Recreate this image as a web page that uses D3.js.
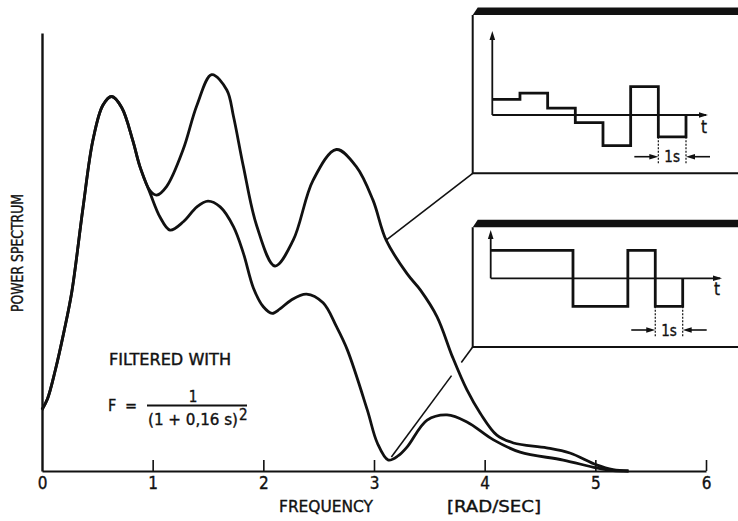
<!DOCTYPE html>
<html><head><meta charset="utf-8">
<script src="https://cdn.jsdelivr.net/npm/d3@7"></script>
<style>
html,body{margin:0;padding:0;background:#fff;}
svg{display:block;}
text{font-family:"Liberation Sans Narrow","DejaVu Sans Condensed","Liberation Sans",sans-serif;fill:#111;stroke:#111;stroke-width:0.35px;}
</style></head><body>
<svg id="chart" width="738" height="521"></svg>
<script>
// Power spectrum of the unfiltered test signal
const freqUnfiltered = [0, 0.05, 0.12, 0.2, 0.27, 0.37, 0.46, 0.55, 0.63, 0.72, 0.82, 0.885, 0.976, 1.036, 1.127, 1.277, 1.40, 1.533, 1.67, 1.73, 1.82, 1.94, 2.105, 2.27, 2.45, 2.66, 2.84, 2.99, 3.11, 3.30, 3.42, 3.57, 3.71, 3.84, 3.96, 4.11, 4.26, 4.56, 4.77, 5.01, 5.16, 5.3];
const powerUnfiltered = [1.4, 1.65, 2.3, 3.2, 4.1, 6.0, 7.55, 8.35, 8.55, 8.3, 7.55, 6.95, 6.4, 6.3, 6.5, 7.35, 8.35, 9.05, 8.7, 8.1, 6.95, 5.6, 4.68, 5.27, 6.64, 7.34, 6.95, 6.19, 5.27, 4.5, 4.13, 3.52, 2.6, 1.85, 1.32, 0.82, 0.64, 0.53, 0.41, 0.14, 0.03, 0];

// Power spectrum after the filter F = 1/(1+0,16 s)^2
const freqFiltered = [0, 0.05, 0.12, 0.2, 0.27, 0.37, 0.46, 0.55, 0.63, 0.72, 0.82, 0.885, 0.976, 1.066, 1.157, 1.277, 1.40, 1.50, 1.61, 1.73, 1.82, 1.91, 2.0, 2.08, 2.15, 2.25, 2.39, 2.54, 2.66, 2.76, 2.94, 3.03, 3.13, 3.22, 3.30, 3.48, 3.66, 3.84, 4.08, 4.32, 4.71, 5.01, 5.16, 5.3];
const powerFiltered = [1.4, 1.65, 2.3, 3.2, 4.1, 6.0, 7.55, 8.35, 8.55, 8.3, 7.55, 6.95, 6.35, 5.8, 5.5, 5.69, 6.03, 6.16, 6.03, 5.58, 4.97, 4.18, 3.75, 3.6, 3.7, 3.9, 4.04, 3.84, 3.3, 2.76, 1.39, 0.64, 0.25, 0.35, 0.55, 1.16, 1.28, 1.12, 0.71, 0.43, 0.25, 0.07, 0.01, 0];

const freqTicks = [0, 1, 2, 3, 4, 5, 6];

// Step test signals (one level per second)
const signalA = [0.55, 0.77, 0.24, -0.27, -1.08, 1.0, -0.77];
const signalB = [1, 1, 1, -1, -1, 1, -1];

const svg = d3.select("#chart");
const ink = "#111";

const x = d3.scaleLinear().domain([0, 6]).range([42, 706]);
const y = d3.scaleLinear().domain([0, 10]).range([471, 33]);

// axes
const xAxis = d3.axisBottom(x).tickValues(freqTicks).tickSizeInner(-11).tickSizeOuter(0).tickPadding(6)
  .tickFormat(d3.format("d"));
const gx = svg.append("g").attr("transform", `translate(0,${y(0)})`).call(xAxis);
gx.select(".domain").attr("stroke", ink).attr("stroke-width", 2.2);
gx.selectAll(".tick line").attr("stroke", ink).attr("stroke-width", 1.6)
  .filter(d => d === 0).remove();
gx.selectAll(".tick text").attr("font-size", 17).attr("fill", ink)
  .attr("font-family", '"Liberation Sans Narrow","DejaVu Sans Condensed",sans-serif');

const gy = svg.append("g").attr("transform", `translate(${x(0)},0)`)
  .call(d3.axisLeft(y).ticks(0).tickSizeOuter(0));
gy.select(".domain").attr("stroke", ink).attr("stroke-width", 2.4);

// axis titles
svg.append("text").attr("x", 279).attr("y", 512).attr("font-size", 16)
  .attr("textLength", 94).attr("lengthAdjust", "spacingAndGlyphs").text("FREQUENCY");
svg.append("text").attr("x", 447).attr("y", 512).attr("font-size", 16)
  .attr("textLength", 94).attr("lengthAdjust", "spacingAndGlyphs").text("[RAD/SEC]");
svg.append("text").attr("transform", "translate(23,312) rotate(-90)").attr("font-size", 16)
  .attr("textLength", 118).attr("lengthAdjust", "spacingAndGlyphs").text("POWER  SPECTRUM");

// spectra
const line = d3.line().x(d => x(d[0])).y(d => y(d[1])).curve(d3.curveCatmullRom.alpha(0.5));
const unfiltered = d3.zip(freqUnfiltered, powerUnfiltered);
const filtered = d3.zip(freqFiltered, powerFiltered);
svg.append("path").datum(unfiltered).attr("d", line)
  .attr("fill", "none").attr("stroke", ink).attr("stroke-width", 2.8).attr("stroke-linejoin", "round");
svg.append("path").datum(filtered).attr("d", line)
  .attr("fill", "none").attr("stroke", ink).attr("stroke-width", 2.8).attr("stroke-linejoin", "round");

// filter annotation
svg.append("text").attr("x", 109).attr("y", 365).attr("font-size", 15)
  .attr("textLength", 122).attr("lengthAdjust", "spacingAndGlyphs").text("FILTERED  WITH");
svg.append("text").attr("x", 108).attr("y", 411).attr("font-size", 16).text("F");
svg.append("text").attr("x", 125).attr("y", 411).attr("font-size", 16).text("=");
svg.append("line").attr("x1", 147).attr("x2", 247).attr("y1", 405.5).attr("y2", 405.5)
  .attr("stroke", ink).attr("stroke-width", 1.8);
svg.append("text").attr("x", 193).attr("y", 402).attr("font-size", 15).attr("text-anchor", "middle").text("1");
svg.append("text").attr("x", 148).attr("y", 425).attr("font-size", 15)
  .attr("textLength", 90).attr("lengthAdjust", "spacingAndGlyphs").text("(1 + 0,16 s)");
svg.append("text").attr("x", 239).attr("y", 420).attr("font-size", 15).text("2");

// insets with the step test signals
function arrowHead(g, px, py, dir) {
  const s = 4.5, l = 9;
  const pts = dir === "up"
    ? [[px, py], [px - s / 1.6, py + l], [px + s / 1.6, py + l]]
    : dir === "right"
      ? [[px, py], [px - l, py - s / 1.6], [px - l, py + s / 1.6]]
      : [[px, py], [px + l, py - s / 1.6], [px + l, py + s / 1.6]];
  g.append("path").attr("d", "M" + pts.join("L") + "Z").attr("fill", ink);
}

function drawInset(o) {
  const g = svg.append("g");
  // box with a heavy top edge
  g.append("path").attr("d", `M${o.left},${o.top} L${o.left + 5},${o.top - 7.5} L745,${o.top - 7.5} L745,${o.top} Z`)
    .attr("fill", ink);
  g.append("path").attr("d", `M${o.left},${o.top} L${o.left},${o.bottom} L745,${o.bottom}`)
    .attr("fill", "none").attr("stroke", ink).attr("stroke-width", 2);

  const sx = d3.scaleLinear().domain([0, 7]).range([o.x0, o.x1]);
  const sy = d3.scaleLinear().domain([-1, 1]).range([o.axisY + o.amp, o.axisY - o.amp]);

  // time axis and value axis
  g.append("line").attr("x1", o.x0).attr("x2", o.tEnd).attr("y1", sy(0)).attr("y2", sy(0))
    .attr("stroke", ink).attr("stroke-width", 1.8);
  arrowHead(g, o.tEnd + 2, sy(0), "right");
  g.append("line").attr("x1", o.x0).attr("x2", o.x0).attr("y1", sy(0)).attr("y2", o.yTip + 6)
    .attr("stroke", ink).attr("stroke-width", 1.8);
  arrowHead(g, o.x0, o.yTip, "up");
  g.append("text").attr("x", o.tLabel[0]).attr("y", o.tLabel[1]).attr("font-size", 17).text("t");

  // signal
  const pts = o.values.map((v, i) => [i, v]);
  pts.push([7, o.values[6]], [7, 0]);
  const step = d3.line().x(d => sx(d[0])).y(d => sy(d[1])).curve(d3.curveStepAfter);
  g.append("path").datum(pts).attr("d", step).attr("fill", "none")
    .attr("stroke", ink).attr("stroke-width", 2.8).attr("stroke-linejoin", "miter");

  // 1 s dimension between t = 6 and t = 7
  const low = sy(o.values[6]);
  [6, 7].forEach(t => {
    g.append("line").attr("x1", sx(t)).attr("x2", sx(t)).attr("y1", low).attr("y2", o.dimY + 7)
      .attr("stroke", ink).attr("stroke-width", 1.2).attr("stroke-dasharray", "2,1.5");
  });
  g.append("line").attr("x1", sx(6) - 24).attr("x2", sx(6) - 6).attr("y1", o.dimY).attr("y2", o.dimY)
    .attr("stroke", ink).attr("stroke-width", 1.6);
  arrowHead(g, sx(6), o.dimY, "right");
  g.append("line").attr("x1", sx(7) + 6).attr("x2", sx(7) + 24).attr("y1", o.dimY).attr("y2", o.dimY)
    .attr("stroke", ink).attr("stroke-width", 1.6);
  arrowHead(g, sx(7), o.dimY, "left");
  g.append("text").attr("x", sx(6.5)).attr("y", o.dimY + 5.5).attr("text-anchor", "middle")
    .attr("font-size", 15).text("1s");
  return g;
}

drawInset({ left: 472.7, top: 15, bottom: 173.3, x0: 492.3, x1: 686, axisY: 115, amp: 28.3,
  yTip: 31, tEnd: 706, tLabel: [701, 133], dimY: 156.7, values: signalA });
drawInset({ left: 472.7, top: 227.3, bottom: 347, x0: 490.7, x1: 682.7, axisY: 278.3, amp: 28,
  yTip: 230, tEnd: 720, tLabel: [714, 295], dimY: 330, values: signalB });

// leader lines from the spectra to the insets
const iA = freqUnfiltered.indexOf(3.11);
const pA = [x(freqUnfiltered[iA]), y(powerUnfiltered[iA])];
svg.append("line").attr("x1", pA[0]).attr("y1", pA[1]).attr("x2", 472.7).attr("y2", 173.3)
  .attr("stroke", ink).attr("stroke-width", 1.6);

const iB = powerFiltered.indexOf(d3.min(powerFiltered.slice(20, 40)));
const pB = [x(freqFiltered[iB]) + 3, y(powerFiltered[iB]) - 3];
const eB = [472.7, 347];
const lerp = t => [pB[0] + (eB[0] - pB[0]) * t, pB[1] + (eB[1] - pB[1]) * t];
[[0, 0.74], [0.86, 1]].forEach(([a, b]) => {
  const s = lerp(a), e = lerp(b);
  svg.append("line").attr("x1", s[0]).attr("y1", s[1]).attr("x2", e[0]).attr("y2", e[1])
    .attr("stroke", ink).attr("stroke-width", 1.6);
});
</script>
</body></html>
